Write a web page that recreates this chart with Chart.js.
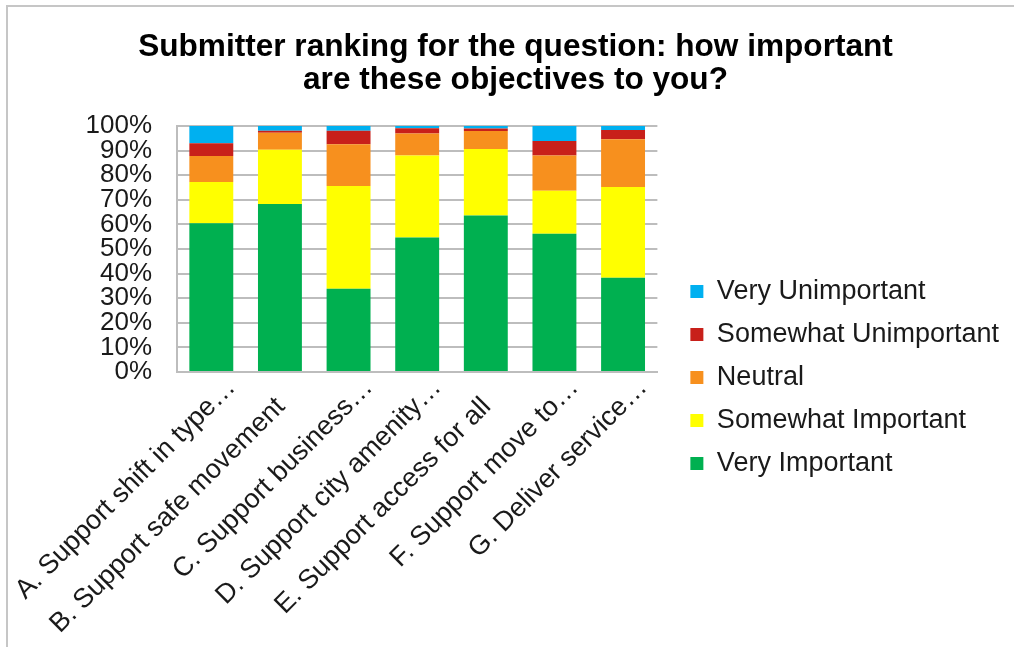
<!DOCTYPE html>
<html>
<head>
<meta charset="utf-8">
<script src="https://cdn.jsdelivr.net/npm/chart.js@4/dist/chart.umd.min.js"></script>
<style>
  html, body { margin: 0; padding: 0; background: #ffffff; }
  #wrap { position: relative; width: 1014px; height: 647px; overflow: hidden; }
  #frame { position: absolute; left: 6px; top: 5px; width: 1100px; height: 700px;
           border-left: 2px solid #c6c6c6; border-top: 2px solid #c6c6c6; }
  #chart { position: absolute; left: 0; top: 0; }
</style>
</head>
<body>
<div id="wrap">
  <div id="frame"></div>
  <canvas id="chart" width="1014" height="647"></canvas>
</div>
<script>
// Objectives asked about in the survey
const categories = [
  'A. Support shift in type…',
  'B. Support safe movement',
  'C. Support business…',
  'D. Support city amenity…',
  'E. Support access for all',
  'F. Support move to…',
  'G. Deliver service…'
];

// Share of submitters (%) giving each rating
const veryImportant        = [60.5, 68.3, 33.8, 54.7, 63.6, 56.2, 38.3];
const somewhatImportant    = [16.8, 22.1, 41.8, 33.3, 27.1, 17.5, 36.9];
const neutral              = [10.5,  6.9, 17.0,  9.0,  7.3, 14.3, 19.4];
const somewhatUnimportant  = [ 5.2,  0.8,  5.5,  2.1,  1.0,  5.9,  3.8];
const veryUnimportant      = [ 7.0,  1.9,  1.9,  0.9,  1.0,  6.1,  1.6];

const yTicks = [0, 10, 20, 30, 40, 50, 60, 70, 80, 90, 100];

const titleLines = ['Submitter ranking for the question: how important', 'are these objectives to you?'];

const FONT = '"Liberation Sans", Arial, sans-serif';

const datasets = [
  { label: 'Very Important',       data: veryImportant,       backgroundColor: '#00b050' },
  { label: 'Somewhat Important',   data: somewhatImportant,   backgroundColor: '#ffff00' },
  { label: 'Neutral',              data: neutral,             backgroundColor: '#f7901e' },
  { label: 'Somewhat Unimportant', data: somewhatUnimportant, backgroundColor: '#c8201a' },
  { label: 'Very Unimportant',     data: veryUnimportant,     backgroundColor: '#00b0f0' }
].map(d => Object.assign(d, { borderWidth: 0, categoryPercentage: 1, barPercentage: 0.64 }));

// Lower the right-hand legend block so it sits level with the middle of the bars
const legendDrop = {
  id: 'legendDrop',
  afterLayout(chart) {
    const lg = chart.legend;
    if (lg) { lg.top += 54; lg.bottom += 54; }
  }
};

new Chart(document.getElementById('chart'), {
  type: 'bar',
  data: { labels: categories, datasets },
  plugins: [legendDrop],
  options: {
    responsive: false,
    animation: false,
    devicePixelRatio: 1,
    layout: { padding: { left: 22, right: 5, top: 0, bottom: 0 } },
    plugins: {
      title: {
        display: true,
        text: titleLines,
        color: '#000000',
        font: { family: FONT, size: 31.6, weight: 'bold', lineHeight: 1.045 },
        padding: { top: 31, bottom: 29 }
      },
      legend: {
        display: true,
        position: 'right',
        align: 'center',
        reverse: true,
        maxWidth: 400,
        labels: {
          color: '#1a1a1a',
          font: { family: FONT, size: 27 },
          boxWidth: 13,
          boxHeight: 13,
          padding: 16
        }
      },
      tooltip: { enabled: false }
    },
    scales: {
      x: {
        stacked: true,
        grid: { display: false, drawTicks: false },
        border: { display: true, color: '#bdbdbd', width: 2 },
        ticks: {
          color: '#1a1a1a',
          font: { family: FONT, size: 27 },
          minRotation: 45,
          maxRotation: 45,
          autoSkip: false,
          labelOffset: 20,
          padding: 0,
          // untruncated names end a little short of the tick, like the clipped ones' text body
          callback: (v, i) => categories[i].endsWith('…') ? categories[i] : categories[i] + '\u2002\u2002'
        },
        afterFit(scale) {
          scale.height = 275;
          scale.paddingLeft = 0;
          scale.paddingRight = 0;
        }
      },
      y: {
        stacked: true,
        min: 0,
        max: 100,
        afterBuildTicks(scale) { scale.ticks = yTicks.map(v => ({ value: v })); },
        grid: { color: '#bdbdbd', lineWidth: 2, drawTicks: false },
        border: { display: true, color: '#bdbdbd', width: 2 },
        ticks: {
          color: '#1a1a1a',
          font: { family: FONT, size: 26 },
          padding: 25,
          autoSkip: false,
          callback: v => v + '%'
        },
        afterFit(scale) { scale.width = 155; }
      },
      gap: {
        position: 'right',
        display: true,
        grid: { display: false },
        border: { display: false },
        ticks: { display: false },
        afterFit(scale) { scale.width = 17; }
      }
    }
  }
});
</script>
</body>
</html>
